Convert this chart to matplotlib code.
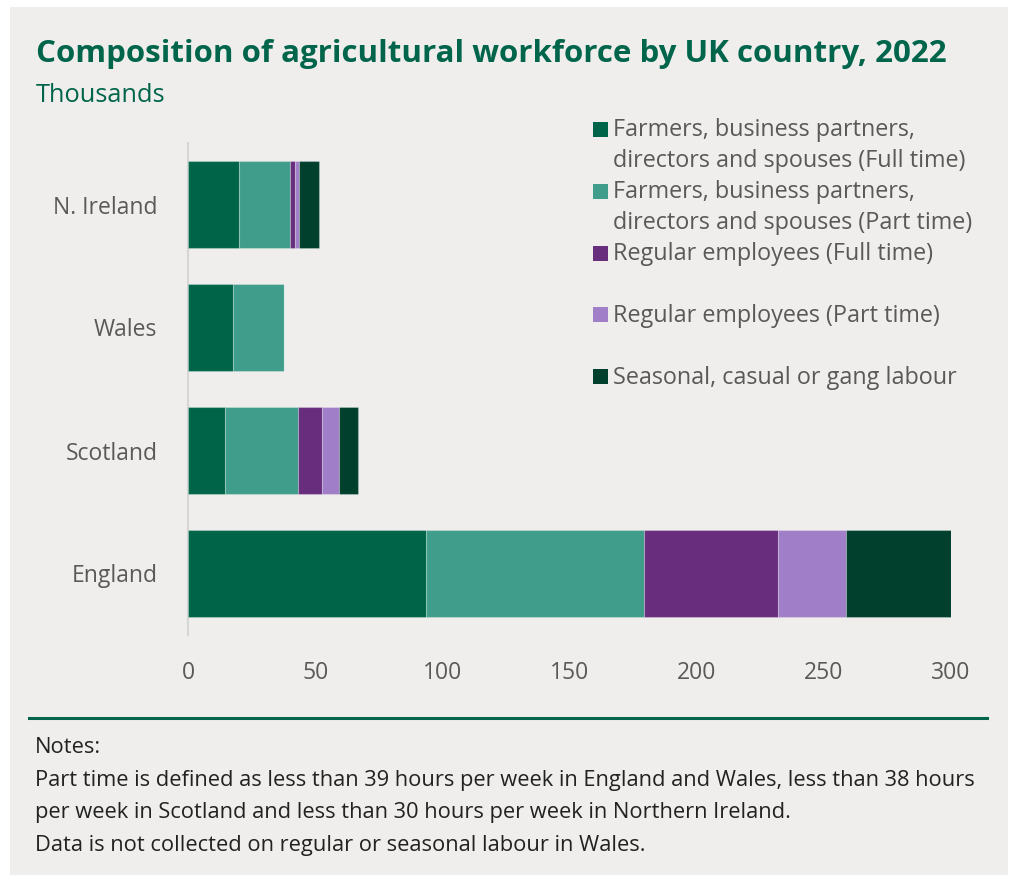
import matplotlib
matplotlib.use("Agg")
import matplotlib.pyplot as plt
from matplotlib.patches import Rectangle
from matplotlib.lines import Line2D
import numpy as np

plt.rcParams['font.family'] = ['Open Sans', 'DejaVu Sans']

# Workforce by country, thousands
countries = ["England", "Scotland", "Wales", "N. Ireland"]
farmers_full_time = [93.6, 14.5, 17.8, 20.2]
farmers_part_time = [85.7, 28.8, 19.9, 19.9]
regular_full_time = [52.7, 9.4, 0.0, 2.0]
regular_part_time = [26.7, 6.7, 0.0, 1.7]
seasonal_casual = [41.3, 7.4, 0.0, 7.6]

series_labels = [
    "Farmers, business partners,\ndirectors and spouses (Full time)",
    "Farmers, business partners,\ndirectors and spouses (Part time)",
    "Regular employees (Full time)",
    "Regular employees (Part time)",
    "Seasonal, casual or gang labour",
]
series_colors = ["#006548", "#419d8b", "#682e7d", "#a17ec8", "#00402d"]
x_ticks = [0, 50, 100, 150, 200, 250, 300]

title = "Composition of agricultural workforce by UK country, 2022"
subtitle = "Thousands"
notes = [
    "Notes:",
    "Part time is defined as less than 39 hours per week in England and Wales, less than 38 hours",
    "per week in Scotland and less than 30 hours per week in Northern Ireland.",
    "Data is not collected on regular or seasonal labour in Wales.",
]

W, H = 1012, 875
fig = plt.figure(figsize=(W / 100, H / 100), dpi=100, facecolor="white")

def fx(px):
    return px / W

def fy(py):
    return 1 - py / H

panel_color = "#efeeec"
green = "#00654a"
grey_text = "#595959"

# Background panel
fig.add_artist(Rectangle((fx(10), 0), fx(1008) - fx(10), fy(7), transform=fig.transFigure,
                         facecolor=panel_color, edgecolor="none", zorder=0))

ax = fig.add_axes([fx(188), fy(635), fx(951) - fx(188), fy(143) - fy(635)])
ax.patch.set_alpha(0)

series = [farmers_full_time, farmers_part_time, regular_full_time,
          regular_part_time, seasonal_casual]
ypos = np.arange(len(countries))
left = np.zeros(len(countries))
for vals, col, lab in zip(series, series_colors, series_labels):
    vals = np.array(vals)
    ax.barh(ypos, vals, left=left, height=0.715, color=col,
            edgecolor=(1, 1, 1, 0.25), linewidth=0.8, label=lab, zorder=3)
    left += vals

ax.set_xlim(0, 300)
ax.set_ylim(-0.5, len(countries) - 0.5)
ax.set_yticks(ypos)
ax.set_yticklabels(countries)
ax.set_xticks(x_ticks)
ax.set_xticklabels([str(t) for t in x_ticks])
ax.tick_params(axis="both", length=0, labelsize=16.5, colors=grey_text)
ax.tick_params(axis="x", pad=19)
ax.tick_params(axis="y", pad=22)
for s in ["top", "right", "bottom"]:
    ax.spines[s].set_visible(False)
ax.spines["left"].set_color("#d6d6d6")
ax.spines["left"].set_linewidth(1.5)

# Legend: square swatch beside the first line of each entry
slot_tops = [129, 191, 253, 314, 376]
for top, col, lab in zip(slot_tops, series_colors, series_labels):
    fig.add_artist(Rectangle((fx(593), fy(top + 7.5)), fx(15), 15 / H,
                             transform=fig.transFigure, facecolor=col, edgecolor="none"))
    fig.text(fx(613), fy(top - 10.5), lab, ha="left", va="top", fontsize=16.8,
             color=grey_text, linespacing=1.38)

# Titles
fig.text(fx(36), fy(62), title, ha="left", va="baseline", fontsize=22.5,
         fontweight="bold", color=green)
fig.text(fx(36), fy(102), subtitle, ha="left", va="baseline", fontsize=18.3, color=green)

# Separator line
fig.add_artist(Line2D([fx(29), fx(987)], [fy(718), fy(718)], transform=fig.transFigure,
                      color=green, linewidth=2.2))

# Notes
for i, line in enumerate(notes):
    fig.text(fx(35), fy(753 + i * 32.7), line, ha="left", va="baseline",
             fontsize=15.75, color="#222222")

fig.savefig("out.png", dpi=100, facecolor=fig.get_facecolor())
